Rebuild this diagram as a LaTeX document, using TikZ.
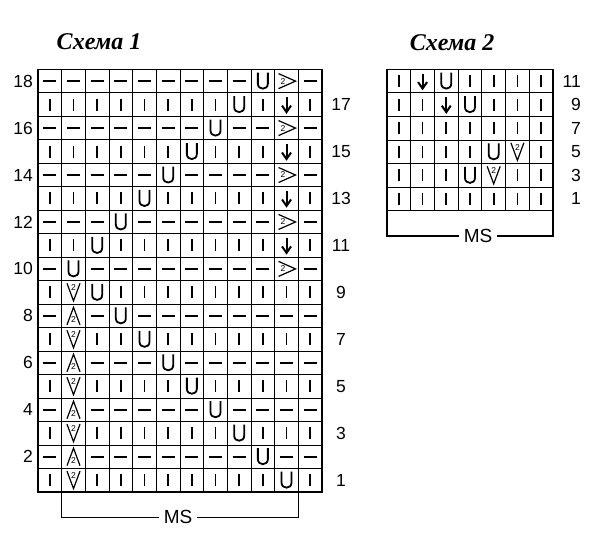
\documentclass[tikz,border=0pt]{standalone}
\usepackage{fontspec}
\setmainfont{Liberation Sans}
\newfontfamily\titlefont{Liberation Serif}
\tikzset{
  gridin/.style={line width=0.8pt},
  gridout/.style={line width=1.3pt},
  bracket/.style={line width=1pt},
  symline/.style={line width=1.7pt},
  symU/.style={line width=1.8pt},
  symarrow/.style={line width=2pt},
  symtri/.style={line width=1.2pt, line join=miter},
  tinytwo/.style={font=\fontsize{8.5}{8.5}\selectfont, inner sep=0pt},
  rowlab/.style={font=\fontsize{17.5}{17.5}\selectfont, inner sep=0pt},
  mslab/.style={font=\fontsize{19}{19}\selectfont, inner xsep=5pt, inner ysep=0pt},
  ttl/.style={font=\titlefont\bfseries\itshape\fontsize{24}{24}\selectfont, inner sep=0pt},
  pics/sv/.style={code={\draw[symline] (0,-6) -- (0,6);}},
  pics/sd/.style={code={\draw[symline] (-6.5,0) -- (6.5,0);}},
  pics/sU/.style={code={\draw[symU] (-5,-8.5) -- (-5,2.5) .. controls (-5,9.2) and (5,9.2) .. (5,2.5) -- (5,-8.5);}},
  pics/sa/.style={code={\draw[symarrow] (0,-7.5) -- (0,7); \draw[symarrow,line join=miter] (-4.5,1) -- (0,7.5) -- (4.5,1);}},
  pics/sg/.style={code={\draw[symtri] (-8,-7.5) -- (9,0) -- (-8,7.5); \node[tinytwo] (-two) at (-3.5,0) {2};}},
  pics/sw/.style={code={\draw[symtri] (-6.5,-9) -- (0,8.5) -- (6.5,-9); \node[tinytwo] (-two) at (0,-4.5) {2};}},
  pics/sm/.style={code={\draw[symtri] (-6.5,9) -- (0,-8.5) -- (6.5,9); \node[tinytwo] (-two) at (0,3.5) {2};}},
}
\begin{document}
\begin{tikzpicture}[x=1pt,y=-1pt]
\useasboundingbox (0,0) rectangle (603,551);
% titles
\node[ttl] (t1) at (99,42) {Схема 1};
\node[ttl] (t2) at (452,43) {Схема 2};
% ---------- chart 1 ----------
\foreach \i in {1,...,11}
  \draw[gridin] ({38+\i*23.67},69.4) -- ({38+\i*23.67},491.9);
\foreach \j in {1,...,17}
  \draw[gridin] (38,{69.4+\j*23.47}) -- (322,{69.4+\j*23.47});
\draw[gridout] (38,69.4) rectangle (322,491.9);
\foreach \row [count=\kk] in {
 {sd,sd,sd,sd,sd,sd,sd,sd,sd,sU,sg,sd},
 {sv,sv,sv,sv,sv,sv,sv,sv,sU,sv,sa,sv},
 {sd,sd,sd,sd,sd,sd,sd,sU,sd,sd,sg,sd},
 {sv,sv,sv,sv,sv,sv,sU,sv,sv,sv,sa,sv},
 {sd,sd,sd,sd,sd,sU,sd,sd,sd,sd,sg,sd},
 {sv,sv,sv,sv,sU,sv,sv,sv,sv,sv,sa,sv},
 {sd,sd,sd,sU,sd,sd,sd,sd,sd,sd,sg,sd},
 {sv,sv,sU,sv,sv,sv,sv,sv,sv,sv,sa,sv},
 {sd,sU,sd,sd,sd,sd,sd,sd,sd,sd,sg,sd},
 {sv,sw,sU,sv,sv,sv,sv,sv,sv,sv,sv,sv},
 {sd,sm,sd,sU,sd,sd,sd,sd,sd,sd,sd,sd},
 {sv,sw,sv,sv,sU,sv,sv,sv,sv,sv,sv,sv},
 {sd,sm,sd,sd,sd,sU,sd,sd,sd,sd,sd,sd},
 {sv,sw,sv,sv,sv,sv,sU,sv,sv,sv,sv,sv},
 {sd,sm,sd,sd,sd,sd,sd,sU,sd,sd,sd,sd},
 {sv,sw,sv,sv,sv,sv,sv,sv,sU,sv,sv,sv},
 {sd,sm,sd,sd,sd,sd,sd,sd,sd,sU,sd,sd},
 {sv,sw,sv,sv,sv,sv,sv,sv,sv,sv,sU,sv}} {
  \foreach \t [count=\cc] in \row {
    \pic (a-\kk-\cc) at ({38+(\cc-0.5)*23.67},{69.4+(\kk-0.5)*23.47}) {\t};
  }
}
% row labels chart 1
\foreach \r in {2,4,...,18}
  \node[rowlab,anchor=east] (la\r) at (33,{69.4+(18-\r+0.5)*23.47}) {\r};
\foreach \r in {1,3,...,17}
  \node[rowlab] (la\r) at (341,{69.4+(18-\r+0.5)*23.47}) {\r};
% MS bracket chart 1
\node[mslab] (ms1) at (178,517) {MS};
\coordinate (b1l) at (61.67,491.9);
\coordinate (b1r) at (298.4,491.9);
\draw[bracket] (b1l) |- (ms1.west);
\draw[bracket] (b1r) |- (ms1.east);
% ---------- chart 2 ----------
\foreach \i in {1,...,6}
  \draw[gridin] ({387+\i*23.71},69.3) -- ({387+\i*23.71},210.7);
\foreach \j in {1,...,6}
  \draw[gridin] (387,{69.3+\j*23.57}) -- (553,{69.3+\j*23.57});
\draw[gridout] (387,210.7) -- (387,69.3) -- (553,69.3) -- (553,210.7);
\foreach \row [count=\kk] in {
 {sv,sa,sU,sv,sv,sv,sv},
 {sv,sv,sa,sU,sv,sv,sv},
 {sv,sv,sv,sv,sv,sv,sv},
 {sv,sv,sv,sv,sU,sw,sv},
 {sv,sv,sv,sU,sw,sv,sv},
 {sv,sv,sv,sv,sv,sv,sv}} {
  \foreach \t [count=\cc] in \row {
    \pic (b-\kk-\cc) at ({387+(\cc-0.5)*23.71},{69.3+(\kk-0.5)*23.57}) {\t};
  }
}
\foreach \r [count=\kk] in {11,9,7,5,3,1}
  \node[rowlab,anchor=east] (lb\r) at (581,{69.3+(\kk-0.5)*23.57}) {\r};
\node[mslab] (ms2) at (478,236) {MS};
\coordinate (b2l) at (387,210.7);
\coordinate (b2r) at (553,210.7);
\draw[gridout] (b2l) |- (ms2.west);
\draw[gridout] (b2r) |- (ms2.east);
\end{tikzpicture}
\end{document}
